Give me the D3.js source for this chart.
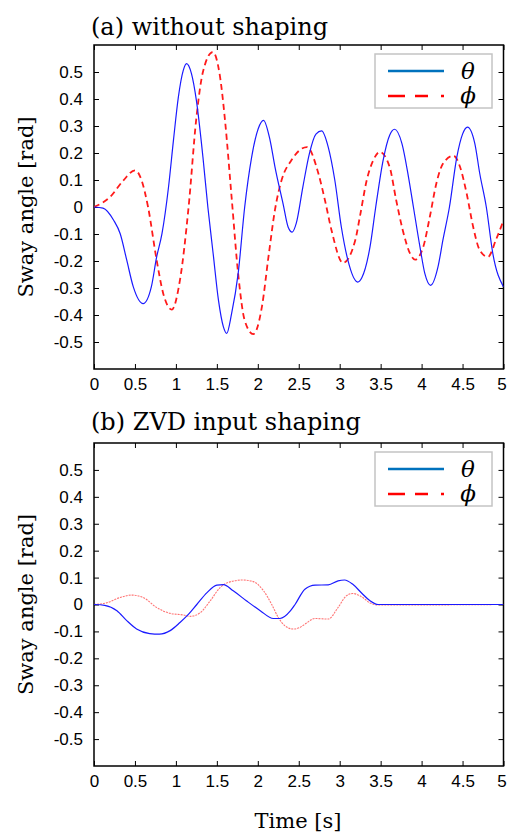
<!DOCTYPE html>
<html lang="en">
<head>
<meta charset="utf-8">
<title>Sway angle</title>
<script src="https://cdn.jsdelivr.net/npm/d3@7"></script>
<style>
  body { margin: 0; background: #fff; }
  .axis path { display: none; }
  .axis line { stroke: #000; stroke-width: 1; }
  .axis text { font-family: "Liberation Sans", Arial, sans-serif; font-size: 17px; fill: #000; }
  .serif { font-family: "DejaVu Serif", "Liberation Serif", serif; fill: #000; }
</style>
</head>
<body>
<script>
// tick values and labels
var timeTicks = [0, 0.5, 1, 1.5, 2, 2.5, 3, 3.5, 4, 4.5, 5];
var timeLabels = ["0", "0.5", "1", "1.5", "2", "2.5", "3", "3.5", "4", "4.5", "5"];
var angleTicks = [-0.5, -0.4, -0.3, -0.2, -0.1, 0, 0.1, 0.2, 0.3, 0.4, 0.5];
var angleLabels = ["-0.5", "-0.4", "-0.3", "-0.2", "-0.1", "0", "0.1", "0.2", "0.3", "0.4", "0.5"];

// (a) without shaping - theta
var thetaA_t = [0, 0.11, 0.24, 0.32, 0.40, 0.48, 0.60, 0.70, 0.765, 0.83, 0.91, 0.97, 1.03, 1.09, 1.13, 1.19, 1.25, 1.33, 1.39, 1.455, 1.52, 1.58, 1.62, 1.68, 1.76, 1.84, 1.925, 2.005, 2.07, 2.15, 2.21, 2.31, 2.37, 2.42, 2.47, 2.55, 2.63, 2.71, 2.78, 2.86, 2.94, 3.02, 3.10, 3.22, 3.27, 3.37, 3.44, 3.53, 3.61, 3.67, 3.76, 3.84, 3.90, 3.98, 4.04, 4.11, 4.20, 4.26, 4.34, 4.43, 4.50, 4.56, 4.65, 4.71, 4.79, 4.87, 5.0];
var thetaA_v = [0, -0.004, -0.049, -0.099, -0.197, -0.296, -0.358, -0.296, -0.185, -0.099, 0.074, 0.247, 0.407, 0.506, 0.531, 0.494, 0.395, 0.185, 0, -0.173, -0.346, -0.444, -0.468, -0.395, -0.247, 0, 0.185, 0.29, 0.321, 0.247, 0.148, 0.01, -0.074, -0.093, -0.06, 0.074, 0.198, 0.27, 0.282, 0.222, 0.1, -0.074, -0.197, -0.278, -0.262, -0.148, 0, 0.173, 0.266, 0.288, 0.235, 0.111, 0, -0.148, -0.247, -0.29, -0.222, -0.123, 0, 0.185, 0.27, 0.296, 0.235, 0.124, 0, -0.173, -0.296];

// (a) without shaping - phi
var phiA_t = [0, 0.195, 0.36, 0.50, 0.58, 0.66, 0.765, 0.845, 0.95, 1.05, 1.155, 1.25, 1.33, 1.45, 1.54, 1.60, 1.68, 1.76, 1.84, 1.945, 2.05, 2.13, 2.21, 2.29, 2.41, 2.60, 2.74, 2.82, 2.90, 3.04, 3.19, 3.25, 3.33, 3.41, 3.49, 3.61, 3.69, 3.77, 3.86, 3.92, 4.02, 4.10, 4.18, 4.26, 4.39, 4.47, 4.55, 4.63, 4.71, 4.81, 4.91, 5.0];
var phiA_v = [0, 0.037, 0.099, 0.136, 0.10, 0, -0.197, -0.32, -0.38, -0.27, 0, 0.33, 0.5, 0.574, 0.48, 0.32, 0.037, -0.247, -0.42, -0.471, -0.37, -0.185, -0.01, 0.099, 0.173, 0.222, 0.124, 0.025, -0.086, -0.207, -0.123, -0.03, 0.099, 0.173, 0.204, 0.148, 0.025, -0.086, -0.173, -0.195, -0.148, -0.037, 0.087, 0.16, 0.19, 0.148, 0.05, -0.074, -0.16, -0.185, -0.12, -0.05];

// (b) ZVD input shaping - theta
var thetaB_t = [0, 0.13, 0.28, 0.40, 0.52, 0.68, 0.80, 0.93, 1.05, 1.155, 1.255, 1.38, 1.50, 1.58, 1.70, 1.86, 2.03, 2.19, 2.27, 2.40, 2.455, 2.575, 2.70, 2.86, 2.98, 3.06, 3.16, 3.27, 3.37, 3.47, 5.0];
var thetaB_v = [0, -0.003, -0.023, -0.06, -0.091, -0.108, -0.11, -0.097, -0.067, -0.036, 0, 0.044, 0.072, 0.074, 0.051, 0.014, -0.023, -0.052, -0.052, -0.023, 0, 0.057, 0.072, 0.073, 0.088, 0.091, 0.075, 0.042, 0.014, 0, 0];

// (b) ZVD input shaping - phi
var phiB_t = [0, 0.15, 0.32, 0.46, 0.60, 0.765, 0.93, 1.09, 1.175, 1.30, 1.42, 1.54, 1.66, 1.82, 1.945, 2.07, 2.17, 2.25, 2.33, 2.43, 2.51, 2.575, 2.70, 2.86, 2.98, 3.08, 3.16, 3.27, 3.37, 3.47, 5.0];
var phiB_v = [0, 0.006, 0.026, 0.035, 0.026, -0.011, -0.033, -0.039, -0.044, -0.03, 0.014, 0.063, 0.084, 0.091, 0.085, 0.051, 0, -0.048, -0.079, -0.091, -0.086, -0.073, -0.052, -0.054, -0.011, 0.032, 0.041, 0.028, 0.006, -0.002, 0];

var w = 507, h = 837;
var left = 94, right = 503.5;

var svg = d3.select("body").append("svg").attr("width", w).attr("height", h);

var xscale = d3.scaleLinear().domain([0, 5]).range([left, right]);

function panel(id, top, bottom, title, titleY, theta_t, theta_v, phi_t, phi_v, phiStyle) {
    var yscale = d3.scaleLinear().domain([-0.6, 0.6]).range([bottom, top]);
    var g = svg.append("g");

    svg.append("clipPath").attr("id", "clip-" + id).append("rect")
       .attr("x", left).attr("y", top).attr("width", right - left).attr("height", bottom - top);

    g.append("text").attr("class", "serif").attr("x", 91).attr("y", titleY)
     .attr("font-size", "24px").text(title);

    // axes with inward ticks
    var xaxis = g.append("g").attr("class", "axis").attr("transform", "translate(0," + bottom + ")")
     .call(d3.axisBottom(xscale).tickValues(timeTicks).tickSize(-5).tickSizeOuter(0).tickPadding(9)
            .tickFormat(function(d, i) { return timeLabels[i]; }));
    // last label sits right on the page edge
    xaxis.selectAll(".tick text").filter(function(d) { return d === 5; }).attr("dx", -2);
    g.append("g").attr("class", "axis").attr("transform", "translate(0," + top + ")")
     .call(d3.axisTop(xscale).tickValues(timeTicks).tickSize(-5).tickSizeOuter(0).tickFormat(""));
    g.append("g").attr("class", "axis").attr("transform", "translate(" + left + ",0)")
     .call(d3.axisLeft(yscale).tickValues(angleTicks).tickSize(-5).tickSizeOuter(0).tickPadding(11)
            .tickFormat(function(d, i) { return angleLabels[i]; }));
    g.append("g").attr("class", "axis").attr("transform", "translate(" + right + ",0)")
     .call(d3.axisRight(yscale).tickValues(angleTicks).tickSize(-5).tickSizeOuter(0).tickFormat(""));

    g.append("rect").attr("x", left).attr("y", top).attr("width", right - left).attr("height", bottom - top)
     .attr("fill", "none").attr("stroke", "#000").attr("stroke-width", 1.5);

    var line = d3.line().curve(d3.curveMonotoneX)
                 .x(function(d) { return xscale(d[0]); })
                 .y(function(d) { return yscale(d[1]); });

    var lines = g.append("g").attr("clip-path", "url(#clip-" + id + ")");
    lines.append("path").datum(d3.zip(phi_t, phi_v)).attr("d", line)
         .attr("fill", "none").attr("stroke", phiStyle.color).attr("stroke-width", phiStyle.width)
         .attr("stroke-dasharray", phiStyle.dash).attr("stroke-opacity", phiStyle.opacity);
    lines.append("path").datum(d3.zip(theta_t, theta_v)).attr("d", line)
         .attr("fill", "none").attr("stroke", "#1a1aff").attr("stroke-width", 1.2);

    // legend
    var lg = g.append("g").attr("transform", "translate(375," + (top + 9) + ")");
    lg.append("rect").attr("width", 117).attr("height", 54)
      .attr("fill", "#fff").attr("stroke", "#c4c4c4").attr("stroke-width", 1.5);
    lg.append("line").attr("x1", 13).attr("x2", 69).attr("y1", 17).attr("y2", 17)
      .attr("stroke", "#0072bd").attr("stroke-width", 2.5);
    lg.append("line").attr("x1", 13).attr("x2", 69).attr("y1", 42).attr("y2", 42)
      .attr("stroke", "#ff0000").attr("stroke-width", 2.5).attr("stroke-dasharray", "17,10,13,13,3,20");
    lg.append("text").attr("class", "serif").attr("x", 93).attr("y", 25).attr("text-anchor", "middle")
      .attr("font-size", "23px").attr("font-style", "italic").text("θ");
    lg.append("text").attr("class", "serif").attr("x", 93).attr("y", 49).attr("text-anchor", "middle")
      .attr("font-size", "23px").attr("font-style", "italic").text("ϕ");

    // y label
    g.append("text").attr("class", "serif").attr("font-size", "21px").attr("text-anchor", "middle")
     .attr("transform", "translate(33," + ((top + bottom) / 2) + ") rotate(-90)")
     .text("Sway angle [rad]");
}

panel("a", 45, 369, "(a) without shaping", 35, thetaA_t, thetaA_v, phiA_t, phiA_v,
      { color: "#ff1a1a", width: 1.8, dash: "6,4", opacity: 1 });
panel("b", 443, 766, "(b) ZVD input shaping", 430, thetaB_t, thetaB_v, phiB_t, phiB_v,
      { color: "#ff5050", width: 1.1, dash: "2,1", opacity: 0.8 });

svg.append("text").attr("class", "serif").attr("x", 298).attr("y", 828)
   .attr("text-anchor", "middle").attr("font-size", "21px").text("Time [s]");
</script>
</body>
</html>
